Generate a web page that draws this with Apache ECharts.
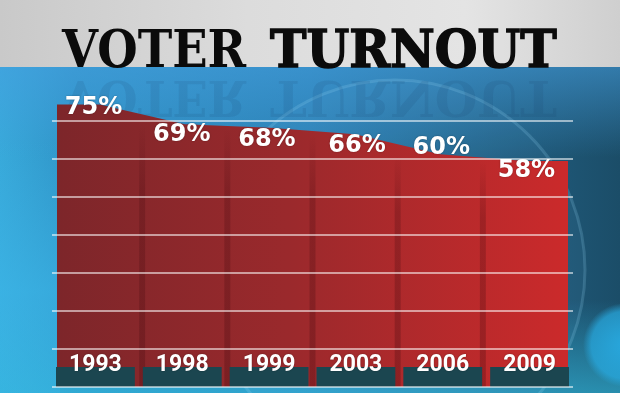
<!DOCTYPE html>
<html>
<head>
<meta charset="utf-8">
<script src="https://cdn.jsdelivr.net/npm/echarts@6/dist/echarts.min.js"></script>
<style>
html,body{margin:0;padding:0;background:#2a80b4;}
#chart{width:620px;height:393px;}
</style>
</head>
<body>
<div id="chart"></div>
<script>
// ---- data ----
const titleWords = ['VOTER', 'TURNOUT'];
const years = ['1993', '1998', '1999', '2003', '2006', '2009'];
const turnout = [75, 69, 68, 66, 60, 58];
const valueLabels = turnout.map(v => v + '%');
// value scale of the red shape (the graphic does not start from zero)
const dataMin = -10, dataMax = 70, dataStep = 10;
// decorative guide lines
const gridMin = 0, gridMax = 70, gridStep = 10;

// ---- label nudges (style only) ----
const labelShift = [[-6, 3], [-3, 10], [-3, 12], [2, 11], [1, -6], [1, 10]];

const n = turnout.length;
// area outline: flat ends at the outer edges, one vertex per year centre
const areaData = [{ value: [0, turnout[0]], label: { show: false } }]
  .concat(turnout.map((v, i) => ({
    value: [i + 0.5, v],
    label: { show: true, formatter: valueLabels[i], position: [0.5 + labelShift[i][0], 0.5 + labelShift[i][1]] }
  })))
  .concat([{ value: [n, turnout[n - 1]], label: { show: false } }]);

const dividerData = turnout.slice(1).map((v, i) => [i + 1, Math.min(v, turnout[i])]);
const footerData = years.map((y, i) => [i]);

const chart = echarts.init(document.getElementById('chart'), null, { renderer: 'canvas' });
const G = echarts.graphic;

const option = {
  backgroundColor: 'transparent',
  animation: false,
  grid: { left: 52, right: 47, top: 121, bottom: 6, containLabel: false },
  xAxis: [
    {
      type: 'category', data: years, boundaryGap: true, z: 10,
      axisLine: { show: false }, axisTick: { show: false }, splitLine: { show: false },
      axisLabel: {
        inside: true, margin: 10, color: '#ffffff', fontSize: 23,
        fontFamily: 'Roboto, "Liberation Sans", sans-serif', fontWeight: 'bold',
        textShadowColor: 'rgba(0,0,0,0.35)', textShadowBlur: 2
      }
    },
    {
      type: 'value', min: -5 / 85.17, max: n + 5 / 85.17, show: false
    }
  ],
  yAxis: [
    {
      type: 'value', min: dataMin, max: dataMax, interval: dataStep, show: false,
      splitLine: { show: false }
    },
    {
      type: 'value', min: gridMin, max: gridMax, interval: gridStep, z: 5, position: 'left',
      axisLine: { show: false }, axisTick: { show: false }, axisLabel: { show: false },
      splitLine: { show: true, lineStyle: { color: 'rgba(255,255,255,0.55)', width: 2 } }
    }
  ],
  graphic: [
    // grey studio top
    { type: 'rect', z: -10, shape: { x: 0, y: 0, width: 620, height: 68 },
      style: { fill: new G.LinearGradient(0, 0, 1, 0, [
        { offset: 0, color: '#c9c9c9' }, { offset: 0.4, color: '#dcdcdc' },
        { offset: 0.75, color: '#e4e4e4' }, { offset: 1, color: '#cfcfcf' }]) } },
    // blue backdrop
    { type: 'rect', z: -10, shape: { x: 0, y: 67, width: 620, height: 326 },
      style: { fill: new G.LinearGradient(0, 0, 1, 0, [
        { offset: 0, color: '#38a9da' }, { offset: 0.12, color: '#2f93c6' },
        { offset: 0.5, color: '#2a7fb2' }, { offset: 0.8, color: '#215f82' },
        { offset: 1, color: '#1b4d68' }]) } },
    { type: 'rect', z: -9, shape: { x: 0, y: 67, width: 620, height: 90 },
      style: { fill: new G.LinearGradient(0, 0, 0, 1, [
        { offset: 0, color: 'rgba(70,160,225,0.55)' }, { offset: 1, color: 'rgba(70,160,225,0)' }]) } },
    { type: 'rect', z: -9, shape: { x: 0, y: 300, width: 620, height: 93 },
      style: { fill: new G.LinearGradient(0, 0, 0, 1, [
        { offset: 0, color: 'rgba(50,185,220,0)' }, { offset: 1, color: 'rgba(50,185,220,0.6)' }]) } },
    { type: 'rect', z: -9, shape: { x: 0, y: 140, width: 60, height: 253 },
      style: { fill: new G.LinearGradient(0, 0, 0, 1, [
        { offset: 0, color: 'rgba(60,180,230,0)' }, { offset: 0.6, color: 'rgba(60,185,235,0.55)' }, { offset: 1, color: 'rgba(60,185,235,0.3)' }]) } },
    // ring
    { type: 'circle', z: -8, shape: { cx: 395, cy: 270, r: 190 },
      style: { fill: 'rgba(120,190,230,0.06)', stroke: 'rgba(150,215,245,0.2)', lineWidth: 3 } },
    // cyan glow bottom right
    { type: 'circle', z: -8, shape: { cx: 625, cy: 345, r: 42 },
      style: { fill: new G.RadialGradient(0.5, 0.5, 0.5, [
        { offset: 0, color: 'rgba(40,170,225,0.95)' }, { offset: 0.8, color: 'rgba(40,170,225,0.7)' }, { offset: 1, color: 'rgba(40,170,225,0)' }]) } },
    // title reflection
    { type: 'text', z: -7, x: 62, y: 70, scaleX: 0.876, scaleY: -0.9,
      style: { text: titleWords[0], x: 0, y: 0, fontSize: 53, fontWeight: 'bold',
        fontFamily: '"DejaVu Serif", serif', fill: 'rgba(20,50,90,0.1)', verticalAlign: 'bottom' } },
    { type: 'text', z: -7, x: 270, y: 70, scaleX: 0.925, scaleY: -0.9,
      style: { text: titleWords[1], x: 0, y: 0, fontSize: 53, fontWeight: 'bold',
        fontFamily: '"DejaVu Serif", serif', fill: 'rgba(20,50,90,0.1)', verticalAlign: 'bottom' } },
    // title
    { type: 'text', z: 100, x: 62, y: 80, scaleX: 0.876,
      style: { text: titleWords[0], x: 0, y: 0, fontSize: 53, fontWeight: 'bold',
        fontFamily: '"DejaVu Serif", serif', fill: '#0b0b0b', verticalAlign: 'bottom' } },
    { type: 'text', z: 100, x: 270, y: 80, scaleX: 0.925,
      style: { text: titleWords[1], x: 0, y: 0, fontSize: 53, fontWeight: 'bold',
        fontFamily: '"DejaVu Serif", serif', fill: '#0b0b0b', stroke: '#0b0b0b', lineWidth: 1.5,
        verticalAlign: 'bottom' } }
  ],
  series: [
    {
      type: 'line', xAxisIndex: 1, yAxisIndex: 0, data: areaData, z: 2,
      clip: false, symbol: 'circle', symbolSize: 1, showSymbol: true, smooth: false,
      itemStyle: { color: 'rgba(0,0,0,0)' },
      lineStyle: { width: 0 },
      areaStyle: {
        origin: 'start',
        opacity: 1,
        color: new G.LinearGradient(0, 0, 1, 0, [
          { offset: 0, color: '#7d262a' }, { offset: 0.45, color: '#9a292c' },
          { offset: 1, color: '#cb2a2b' }])
      },
      labelLayout: { hideOverlap: false },
      label: {
        show: true, align: 'center', verticalAlign: 'middle',
        color: '#ffffff', fontSize: 24, fontWeight: 'bold',
        fontFamily: '"DejaVu Sans", Verdana, sans-serif',
        textShadowColor: 'rgba(0,0,0,0.3)', textShadowBlur: 2
      }
    },
    {
      type: 'custom', xAxisIndex: 1, yAxisIndex: 0, data: dividerData, z: 3, clip: false,
      renderItem: function (params, api) {
        const p0 = api.coord([api.value(0), dataMin]);
        const p1 = api.coord([api.value(0), api.value(1)]);
        return {
          type: 'rect',
          shape: { x: p0[0] - 3, y: p1[1], width: 6, height: p0[1] - p1[1] },
          style: { fill: new G.LinearGradient(0, 0, 0, 1, [
            { offset: 0, color: 'rgba(70,10,15,0)' }, { offset: 0.25, color: 'rgba(70,10,15,0.25)' },
            { offset: 1, color: 'rgba(70,10,15,0.3)' }]) }
        };
      }
    },
    {
      type: 'custom', xAxisIndex: 0, yAxisIndex: 1, data: footerData, z: 4, clip: false,
      renderItem: function (params, api) {
        const c = api.coord([api.value(0), gridMin]);
        const w = api.size([1, 0])[0];
        return {
          type: 'rect',
          shape: { x: c[0] - w / 2 + 4, y: c[1] - 20, width: w - 8, height: 20 },
          style: { fill: '#1b4650' }
        };
      }
    }
  ]
};
chart.setOption(option);
</script>
</body>
</html>
